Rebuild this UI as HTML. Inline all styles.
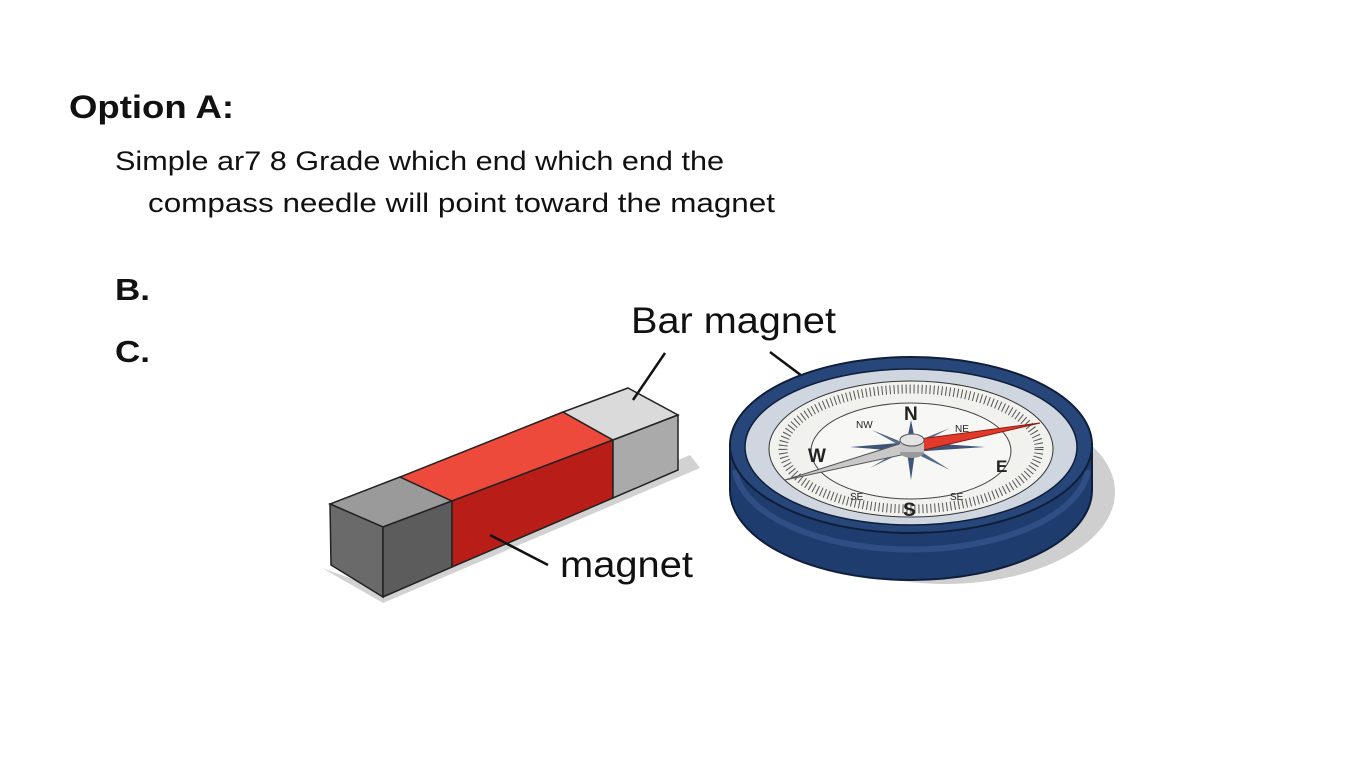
<!DOCTYPE html>
<html><head><meta charset="utf-8"><style>
html,body{margin:0;padding:0;background:#fff;}
svg{display:block;font-family:"Liberation Sans",sans-serif;}
</style></head><body>
<svg width="1365" height="768" viewBox="0 0 1365 768">
<rect width="1365" height="768" fill="#fff"/>
<text x="69" y="118" font-size="32" font-weight="bold" fill="#111" textLength="165" lengthAdjust="spacingAndGlyphs">Option A:</text>
<text x="115" y="170" font-size="27" fill="#111" textLength="609" lengthAdjust="spacingAndGlyphs">Simple ar7 8 Grade which end which end the</text>
<text x="148" y="212" font-size="27" fill="#111" textLength="627" lengthAdjust="spacingAndGlyphs">compass needle will point toward the magnet</text>
<text x="115" y="300" font-size="31" font-weight="bold" fill="#111" textLength="35" lengthAdjust="spacingAndGlyphs">B.</text>
<text x="115" y="362" font-size="31" font-weight="bold" fill="#111" textLength="35" lengthAdjust="spacingAndGlyphs">C.</text>
<text x="631" y="333" font-size="37" fill="#111" textLength="205" lengthAdjust="spacingAndGlyphs">Bar magnet</text>
<text x="560" y="577" font-size="37" fill="#111" textLength="133" lengthAdjust="spacingAndGlyphs">magnet</text>
<!-- magnet shadow -->
<polygon points="322,568 383,603 700,468 690,455 383,590" fill="#d2d2d2"/>
<polygon points="330,504 383,527 452,501 400,477" fill="#9a9a9a" stroke="#222" stroke-width="1.5"/>
<polygon points="400,477 452,501 613,440 563,412" fill="#ee4a3c" stroke="#222" stroke-width="1.5"/>
<polygon points="563,412 613,440 678,415 628,388" fill="#dadada" stroke="#222" stroke-width="1.5"/>
<polygon points="330,504 383,527 383,597 331,565" fill="#6a6a6a" stroke="#222" stroke-width="1.5"/>
<polygon points="383,527 452,501 452,567 383,597" fill="#5c5c5c" stroke="#222" stroke-width="1.5"/>
<polygon points="452,501 613,440 613,498 452,567" fill="#b81e17" stroke="#222" stroke-width="1.5"/>
<polygon points="613,440 678,415 678,470 613,498" fill="#aaaaaa" stroke="#222" stroke-width="1.5"/>
<line x1="665" y1="353" x2="633" y2="400" stroke="#111" stroke-width="2.5"/>
<line x1="770" y1="352" x2="818" y2="388" stroke="#111" stroke-width="2.5"/>
<line x1="490" y1="535" x2="548" y2="565" stroke="#111" stroke-width="2.5"/>
<!-- compass -->
<ellipse cx="945" cy="492" rx="170" ry="92" fill="#cfcfcf"/>
<path d="M730,445 L730,490 A181,90 0 0 0 1092,490 L1092,445 Z" fill="#1f3c6e" stroke="#0f1e3a" stroke-width="2"/>
<path d="M735,470 A177,86 0 0 0 1088,470" fill="none" stroke="#3a5a92" stroke-width="6" opacity="0.6"/>
<ellipse cx="911" cy="445" rx="181" ry="88" fill="#27467a" stroke="#0f1e3a" stroke-width="2"/>
<ellipse cx="911" cy="447" rx="166" ry="78" fill="#cfd6e0" stroke="#0f1e3a" stroke-width="1.5"/>
<ellipse cx="911" cy="449" rx="142" ry="68" fill="#f1f1ee" stroke="#333" stroke-width="1"/>
<ellipse cx="911" cy="449" rx="128" ry="60" fill="none" stroke="#555" stroke-width="9" stroke-dasharray="1 3"/>
<ellipse cx="911" cy="451" rx="100" ry="48" fill="#f7f7f5" stroke="#444" stroke-width="1"/>
<polygon points="911,420 916,445 911,480 906,445" fill="#3e5578"/>
<polygon points="850,447 911,442 985,447 911,452" fill="#3e5578"/>
<polygon points="872,430 914,447 950,470 908,450" fill="#56698a"/>
<polygon points="950,428 912,448 870,468 910,444" fill="#56698a"/>
<text x="904" y="420" font-size="19" font-weight="bold" fill="#222">N</text>
<text x="903" y="516" font-size="19" font-weight="bold" fill="#222">S</text>
<text x="996" y="472" font-size="17" font-weight="bold" fill="#222">E</text>
<text x="808" y="462" font-size="19" font-weight="bold" fill="#222">W</text>
<text x="856" y="428" font-size="10" fill="#222">NW</text>
<text x="955" y="432" font-size="10" fill="#222">NE</text>
<text x="850" y="500" font-size="10" fill="#222">SE</text>
<text x="950" y="500" font-size="10" fill="#222">SE</text>
<polygon points="785,480 912,440 915,452" fill="#c9c9c9" stroke="#555" stroke-width="1"/>
<polygon points="1040,423 912,440 915,452" fill="#e23a2a" stroke="#8a1a10" stroke-width="1"/>
<ellipse cx="912" cy="452" rx="12" ry="6" fill="#999"/>
<rect x="900" y="440" width="24" height="12" fill="#c4c4c4"/>
<ellipse cx="912" cy="440" rx="12" ry="6" fill="#e4e4e4" stroke="#555"/>
</svg>
</body></html>
